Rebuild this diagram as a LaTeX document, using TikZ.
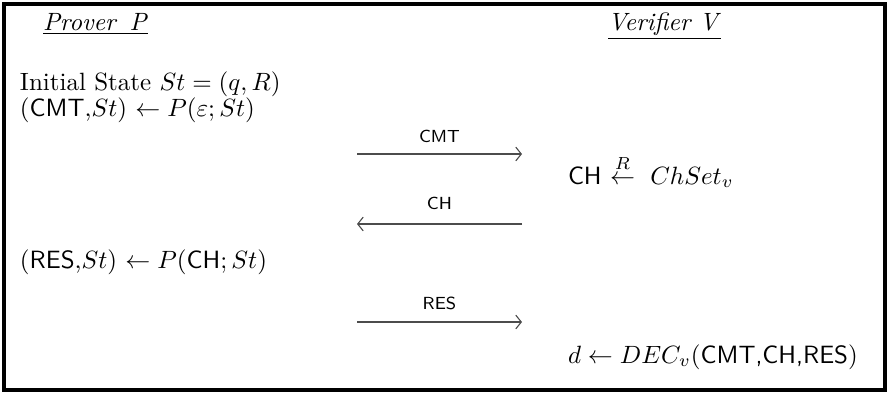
\documentclass[tikz,border=0pt]{standalone}
\usetikzlibrary{arrows.meta}
\begin{document}
\begin{tikzpicture}[x=0.4pt,y=-0.4pt,
  txt/.style={anchor=base west, inner sep=0pt, outer sep=0pt},
  msg/.style={font=\scriptsize\sffamily, inner sep=0pt, anchor=base},
  flow/.style={line width=0.45pt, draw=black!70, -{Straight Barb[length=2.2pt,width=5.5pt,line width=0.45pt]}}]
\useasboundingbox (0,0) rectangle (889,394);
\draw[line width=1.3pt] (4,4) rectangle (885,390);
% headings
\node[txt] (prover) at (43,30) {\underline{\textit{Prover\hspace{2pt} P}}};
\node[txt] (verifier) at (608,30) {\underline{\textit{Verifier V}}};
% prover side
\node[txt] (init) at (20,90) {Initial State $St=(q,R)$};
\node[txt] (cmtgen) at (20,116) {(\textsf{CMT},$St$) $\leftarrow P(\varepsilon;St)$};
\node[txt] (resgen) at (20,268) {(\textsf{RES},$St$) $\leftarrow P(\textsf{CH};St)$};
% verifier side
\node[txt] (chgen) at (568,184) {\textsf{CH} $\stackrel{R}{\leftarrow}\ ChSet_v$};
\node[txt] (dec) at (568,363) {$d\leftarrow DEC_v($\textsf{CMT,CH,RES}$)$};
% message arrows
\coordinate (a1) at (357,154); \coordinate (b1) at (522,154);
\coordinate (a2) at (357,224); \coordinate (b2) at (522,224);
\coordinate (a3) at (357,322); \coordinate (b3) at (522,322);
\draw[flow] (a1) -- (b1);
\draw[flow] (b2) -- (a2);
\draw[flow] (a3) -- (b3);
\node[msg] (cmt) at (439.5,142) {CMT};
\node[msg] (ch) at (439.5,209) {CH};
\node[msg] (res) at (439.5,309) {RES};
\end{tikzpicture}
\end{document}
